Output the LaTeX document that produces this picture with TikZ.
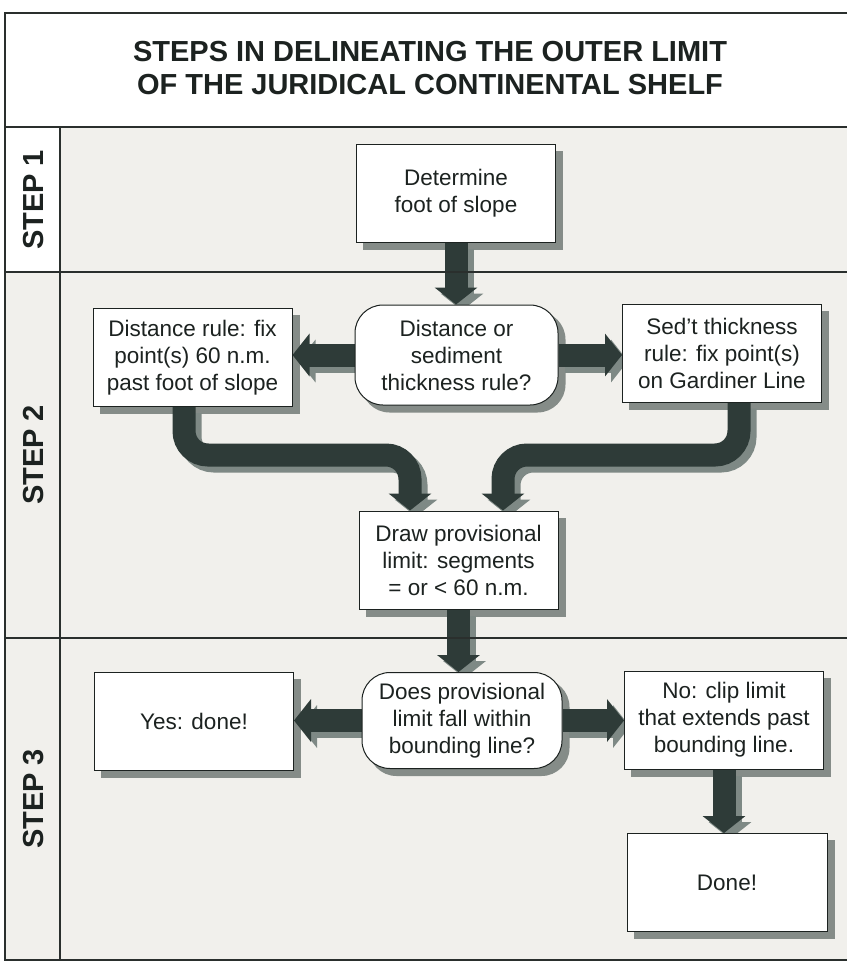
\documentclass[tikz,border=0pt]{standalone}
\usepackage{fontspec}
\setmainfont{Liberation Sans}
\usetikzlibrary{arrows.meta,calc}
\definecolor{ink}{HTML}{1C2220}
\definecolor{arrowc}{HTML}{2E3B38}
\definecolor{ashad}{HTML}{7E8985}
\definecolor{bshad}{HTML}{858C88}
\definecolor{panel}{HTML}{F1F0EC}
\definecolor{framec}{HTML}{2A2F2D}
\pgfdeclarelayer{bg}\pgfdeclarelayer{shad}\pgfdeclarelayer{arr}
\pgfsetlayers{bg,shad,arr,main}
\newcommand\bxshadow[2]{\begin{pgfonlayer}{shad}\fill[bshad, rounded corners=#2] ([shift={(7pt,-7pt)}]#1.south west) rectangle ([shift={(7pt,-7pt)}]#1.north east);\end{pgfonlayer}}
\newcommand\fatpath[1]{\begin{pgfonlayer}{arr}\draw[fatsh] #1;\draw[fat] #1;\end{pgfonlayer}}
\begin{document}
\begin{tikzpicture}[x=1pt,y=-1pt,
  box/.style={draw=ink, line width=1pt, fill=white, minimum width=199pt, minimum height=98pt,
    align=center, text=ink, font=\fontsize{22.5}{27}\selectfont, inner sep=0pt},
  decision/.style={box, rounded corners=28pt},
  fat/.style={line width=23pt, draw=arrowc, rounded corners=24pt, -{Triangle[width=42pt,length=17pt]}},
  fatsh/.style={fat, draw=ashad, transform canvas={shift={(6pt,-6pt)}}},
  steplabel/.style={rotate=90, text=ink, font=\bfseries\fontsize{29}{33}\selectfont},
  rule/.style={draw=framec, line width=1.2pt}]
\useasboundingbox (0,0) rectangle (847,962);
\begin{pgfonlayer}{bg}
\fill[white] (0,0) rectangle (847,962);
\fill[panel] (60,127) rectangle (847,960);
\fill[panel] (5,272) rectangle (60,960);
\end{pgfonlayer}
% frame
\draw[rule] (847,13) -- (5,13) -- (5,960) -- (847,960);
\draw[rule] (5,127) -- (847,127);
\draw[rule] (60,127) -- (60,960);
\draw[rule] (5,272) -- (847,272);
\draw[rule] (5,638) -- (847,638);
% title and step labels
\node[text=ink, align=center, font=\bfseries\fontsize{29}{33}\selectfont] (title) at (430,68)
  {STEPS IN DELINEATING THE OUTER LIMIT\\OF THE JURIDICAL CONTINENTAL SHELF};
\node[steplabel] (s1) at (34,200) {STEP 1};
\node[steplabel] (s2) at (34,455) {STEP 2};
\node[steplabel] (s3) at (34,799) {STEP 3};
% nodes
\node[box] (b1) at (456,193) {Determine\\foot of slope};
\node[decision, minimum width=203pt, minimum height=100pt] (d1) at (456.5,355) {Distance or\\sediment\\thickness rule?};
\node[box] (b2) at (192.5,357.5) {Distance rule: fix\\point(s) 60 n.m.\\past foot of slope};
\node[box] (b3) at (722,353) {Sed't thickness\\rule: fix point(s)\\on Gardiner Line};
\node[box] (b4) at (458.5,560) {Draw provisional\\limit: segments\\= or < 60 n.m.};
\node[decision, minimum width=200pt, minimum height=96pt] (d2) at (462,720.5) {Does provisional\\limit fall within\\bounding line?};
\node[box] (yes) at (194,721) {Yes: done!};
\node[box] (no) at (724,720) {No: clip limit\\that extends past\\bounding line.};
\node[box, minimum width=200pt] (done) at (727,882.5) {Done!};
\bxshadow{b1}{0pt}
\bxshadow{d1}{28pt}
\bxshadow{b2}{0pt}
\bxshadow{b3}{0pt}
\bxshadow{b4}{0pt}
\bxshadow{d2}{28pt}
\bxshadow{yes}{0pt}
\bxshadow{no}{0pt}
\bxshadow{done}{0pt}
% connectors
\coordinate (lv) at (184,455);
\coordinate (lh) at (410,455);
\coordinate (rv) at (739,455);
\coordinate (rh) at (503,455);
\fatpath{(b1.south) -- (b1.south |- d1.north)}
\fatpath{(d1.west) -- (d1.west -| b2.east)}
\fatpath{(d1.east) -- (d1.east -| b3.west)}
\fatpath{(b2.south -| lv) -- (lv) -- (lh) -- (lh |- b4.north)}
\fatpath{(b3.south -| rv) -- (rv) -- (rh) -- (rh |- b4.north)}
\fatpath{(b4.south) -- (b4.south |- d2.north)}
\fatpath{(d2.west) -- (d2.west -| yes.east)}
\fatpath{(d2.east) -- (d2.east -| no.west)}
\fatpath{(no.south) -- (no.south |- done.north)}
\end{tikzpicture}
\end{document}
